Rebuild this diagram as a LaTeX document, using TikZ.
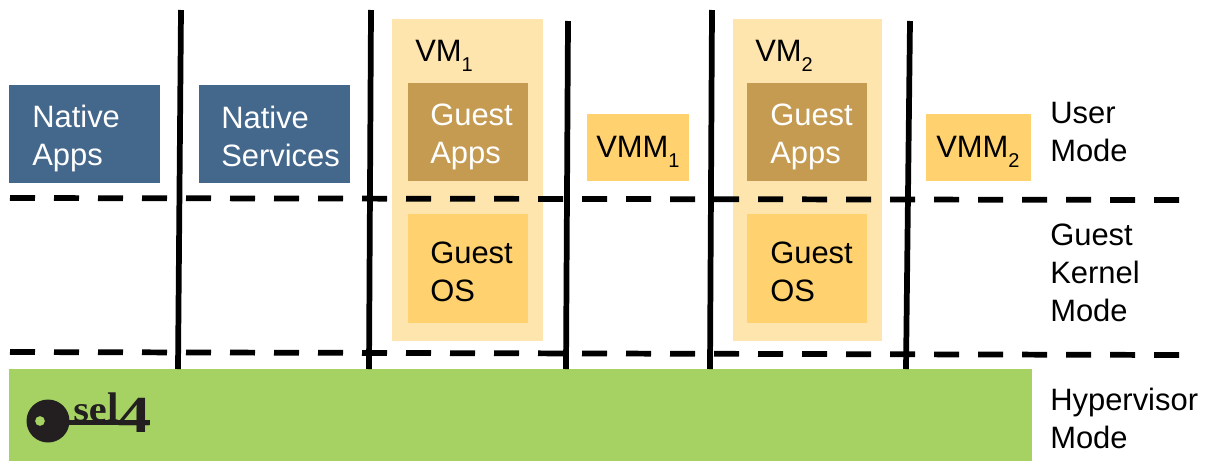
\documentclass[tikz,border=0pt]{standalone}
\usepackage{fontspec}
\setmainfont{Liberation Sans}
\newfontfamily\logofont{Liberation Serif}[Scale=1]
\tikzset{
  lbl/.style={align=left,anchor=west,inner sep=0pt,font=\fontsize{23.2}{28.5}\selectfont,text=black},
  wlbl/.style={lbl,text=white},
  box/.style={draw=none,inner sep=0pt,outer sep=0pt,anchor=north west},
  native/.style={box,fill=blueb},
  gapps/.style={box,fill=brownb},
  gos/.style={box,fill=yellowb},
  vmback/.style={box,fill=paleb},
  sep/.style={draw=black,line width=4.3pt},
  mode/.style={draw=black,line width=4.3pt,dash pattern=on 18.75pt off 14.25pt},
}
\newcommand{\lowsub}[1]{\raisebox{-0.32em}{\fontsize{15}{15}\selectfont #1}}
\definecolor{blueb}{HTML}{44678C}
\definecolor{brownb}{HTML}{C59B51}
\definecolor{yellowb}{HTML}{FFD26F}
\definecolor{paleb}{HTML}{FEE4AD}
\definecolor{greenb}{HTML}{A6D264}
\definecolor{keyb}{HTML}{231F20}
\begin{document}
\begin{tikzpicture}[x=0.75pt,y=-0.75pt]
\useasboundingbox (0,0) rectangle (1207,461);
% hypervisor
\node[box,fill=greenb,minimum width=1023*0.75pt,minimum height=92*0.75pt] (hyp) at (9,369) {};
% VM backgrounds
\node[vmback,minimum width=151*0.75pt,minimum height=322*0.75pt] (vm1) at (392,19) {};
\node[vmback,minimum width=149*0.75pt,minimum height=322*0.75pt] (vm2) at (733,19) {};
% boxes
\node[native,minimum width=151*0.75pt,minimum height=98*0.75pt] (na) at (9,85) {};
\node[native,minimum width=151*0.75pt,minimum height=98*0.75pt] (ns) at (199,85) {};
\node[gapps,minimum width=120*0.75pt,minimum height=98*0.75pt] (ga1) at (408,83) {};
\node[gapps,minimum width=120*0.75pt,minimum height=98*0.75pt] (ga2) at (747,83) {};
\node[gos,minimum width=120*0.75pt,minimum height=109*0.75pt] (go1) at (408,214) {};
\node[gos,minimum width=120*0.75pt,minimum height=109*0.75pt] (go2) at (747,214) {};
\node[gos,minimum width=102*0.75pt,minimum height=67*0.75pt] (vmm1) at (587,114) {};
\node[gos,minimum width=105*0.75pt,minimum height=67*0.75pt] (vmm2) at (926,114) {};
% separators
\coordinate (s1a) at (181,10); \coordinate (s1b) at (178,369);
\coordinate (s2a) at (371,10); \coordinate (s2b) at (369,369);
\coordinate (s3a) at (568,21); \coordinate (s3b) at (566,369);
\coordinate (s4a) at (712,10); \coordinate (s4b) at (710,369);
\coordinate (s5a) at (910,21); \coordinate (s5b) at (906,369);
\draw[sep] (s1a) -- (s1b);
\draw[sep] (s2a) -- (s2b);
\draw[sep] (s3a) -- (s3b);
\draw[sep] (s4a) -- (s4b);
\draw[sep] (s5a) -- (s5b);
\coordinate (d1a) at (10,198); \coordinate (d1b) at (1180,200);
\coordinate (d2a) at (10,352); \coordinate (d2b) at (1180,355);
\draw[mode] (d1a) -- (d1b);
\draw[mode] (d2a) -- (d2b);
% labels
\node[wlbl] (tna) at (32,138) {Native\\Apps};
\node[wlbl] (tns) at (221,136) {Native\\Services};
\node[lbl] (tvm1) at (415,56) {VM\lowsub{1}};
\node[lbl] (tvm2) at (755,56) {VM\lowsub{2}};
\node[wlbl] (tga1) at (430,137) {Guest\\Apps};
\node[wlbl] (tga2) at (770,137) {Guest\\Apps};
\node[lbl] (tgo1) at (430,272) {Guest\\OS};
\node[lbl] (tgo2) at (770,272) {Guest\\OS};
\node[lbl] (tvmm1) at (596,152) {VMM\lowsub{1}};
\node[lbl] (tvmm2) at (936,152) {VMM\lowsub{2}};
\node[lbl] (um) at (1050,132) {User\\Mode};
\node[lbl] (gm) at (1050,273) {Guest\\Kernel\\Mode};
\node[lbl] (hm) at (1050,418) {Hypervisor\\Mode};
% logo
\fill[keyb,even odd rule] (48,421) circle (21.5) (40,421) circle (5);
\fill[keyb] (66,420) rectangle (150,425);
\node[anchor=base west,inner sep=0pt,text=keyb,xscale=1.12] (logo) at (73,421)
  {\logofont\bfseries\fontsize{27}{27}\selectfont se};
\node[anchor=base west,inner sep=0pt,text=keyb] (logo2) at (107,421)
  {\logofont\bfseries\fontsize{31}{31}\selectfont l};
\node[anchor=base west,inner sep=0pt,text=keyb,xscale=1.25] (logo3) at (118,432)
  {\logofont\bfseries\fontsize{39}{39}\selectfont 4};
\end{tikzpicture}
\end{document}
